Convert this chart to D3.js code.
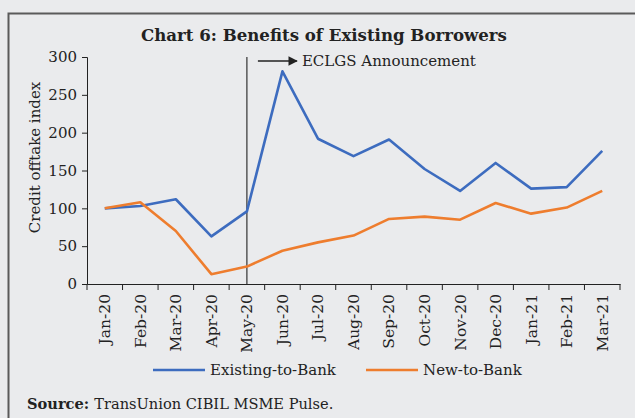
<!DOCTYPE html>
<html>
<head>
<meta charset="utf-8">
<script src="https://cdn.jsdelivr.net/npm/d3@7"></script>
<style>
  html, body { margin: 0; padding: 0; background: #eaebed; }
  svg { display: block; }
  text { font-family: "DejaVu Serif", "Liberation Serif", serif; fill: #222; }
</style>
</head>
<body>
<svg id="chart" width="635" height="418"></svg>
<script>
// Months on the x axis
const months = ["Jan-20","Feb-20","Mar-20","Apr-20","May-20","Jun-20","Jul-20","Aug-20",
                "Sep-20","Oct-20","Nov-20","Dec-20","Jan-21","Feb-21","Mar-21"];
// Credit offtake index, Jan-20 = 100
const existingToBank = [100, 103, 112, 63, 96, 281, 192, 169, 191, 152, 123, 160, 126, 128, 176];
const newToBank      = [100, 108, 70, 13, 23, 44, 55, 64, 86, 89, 85, 107, 93, 101, 123];
const yTicks = [0, 50, 100, 150, 200, 250, 300];
const seriesNames = ["Existing-to-Bank", "New-to-Bank"];
const seriesColors = ["#3d6cbf", "#ee7d2e"];
const announcementMonth = "May-20";
const announcementLabel = "ECLGS Announcement";

const svg = d3.select("#chart");

// Outer frame
svg.append("rect")
  .attr("x", 8.5).attr("y", 13.5)
  .attr("width", 640).attr("height", 420)
  .attr("fill", "none").attr("stroke", "#5a5a5a").attr("stroke-width", 2);

// Title
svg.append("text")
  .attr("x", 324).attr("y", 41)
  .attr("text-anchor", "middle")
  .style("font-size", "16.6px").style("font-weight", "bold")
  .text("Chart 6: Benefits of Existing Borrowers");

const plotLeft = 87, plotRight = 620, plotTop = 57, plotBottom = 284;

const x = d3.scaleBand().domain(months).range([plotLeft, plotRight]);
const y = d3.scaleLinear().domain([0, 300]).range([plotBottom, plotTop]);

// Y axis
const yAxis = svg.append("g")
  .attr("transform", `translate(${plotLeft},0)`)
  .call(d3.axisLeft(y).tickValues(yTicks).tickSize(5).tickPadding(5));
yAxis.selectAll("text").style("font-size", "15px").style("font-family", "DejaVu Serif").attr("fill", "#222");
yAxis.selectAll("path, line").attr("stroke", "#222");

// X axis with ticks at band edges
const xAxis = svg.append("g")
  .attr("transform", `translate(0,${plotBottom})`)
  .call(d3.axisBottom(x).tickSize(0).tickPadding(0));
xAxis.select("path").attr("stroke", "#222");
xAxis.selectAll(".tick line").remove();
xAxis.selectAll(".tick text")
  .attr("transform", "rotate(-90)")
  .attr("x", -10).attr("y", 0).attr("dy", "0.35em")
  .attr("text-anchor", "end")
  .style("font-size", "15.5px").style("font-family", "DejaVu Serif").attr("fill", "#222");
const edges = months.map(m => x(m)).concat([x.range()[1]]);
xAxis.selectAll(".edge").data(edges).join("line")
  .attr("class", "edge")
  .attr("x1", d => d).attr("x2", d => d)
  .attr("y1", 0).attr("y2", 6)
  .attr("stroke", "#222");

// Y axis title
svg.append("text")
  .attr("transform", `translate(40,${(plotTop + plotBottom) / 2 - 13}) rotate(-90)`)
  .attr("text-anchor", "middle")
  .style("font-size", "15px")
  .text("Credit offtake index");

// Announcement marker
const ax = x(announcementMonth) + x.bandwidth() / 2;
svg.append("line")
  .attr("x1", ax).attr("x2", ax).attr("y1", y(300)).attr("y2", plotBottom)
  .attr("stroke", "#222").attr("stroke-width", 1.1);
svg.append("defs").append("marker")
  .attr("id", "arrowhead").attr("viewBox", "0 0 10 10")
  .attr("refX", 9).attr("refY", 5)
  .attr("markerWidth", 5.5).attr("markerHeight", 5.5)
  .attr("orient", "auto")
  .append("path").attr("d", "M0,0 L10,5 L0,10 Z").attr("fill", "#222");
svg.append("line")
  .attr("x1", ax + 11).attr("x2", ax + 50).attr("y1", 61).attr("y2", 61)
  .attr("stroke", "#222").attr("stroke-width", 1.7)
  .attr("marker-end", "url(#arrowhead)");
svg.append("text")
  .attr("x", ax + 55).attr("y", 66)
  .style("font-size", "15px")
  .text(announcementLabel);

// Series lines
const line = d3.line()
  .x((d, i) => x(months[i]) + x.bandwidth() / 2)
  .y(d => y(d));
[existingToBank, newToBank].forEach((vals, k) => {
  svg.append("path")
    .datum(vals)
    .attr("fill", "none")
    .attr("stroke", seriesColors[k])
    .attr("stroke-width", 2.6)
    .attr("stroke-linejoin", "round")
    .attr("d", line);
});

// Legend
const legendItems = [{x: 153, name: seriesNames[0], color: seriesColors[0]},
                     {x: 366, name: seriesNames[1], color: seriesColors[1]}];
legendItems.forEach(it => {
  svg.append("line")
    .attr("x1", it.x).attr("x2", it.x + 52).attr("y1", 370).attr("y2", 370)
    .attr("stroke", it.color).attr("stroke-width", 2.6);
  svg.append("text")
    .attr("x", it.x + 57).attr("y", 375)
    .style("font-size", "15px")
    .text(it.name);
});

// Source note
const src = svg.append("text").attr("x", 27).attr("y", 409).style("font-size", "14.6px");
src.append("tspan").style("font-weight", "bold").text("Source: ");
src.append("tspan").text("TransUnion CIBIL MSME Pulse.");
</script>
</body>
</html>
